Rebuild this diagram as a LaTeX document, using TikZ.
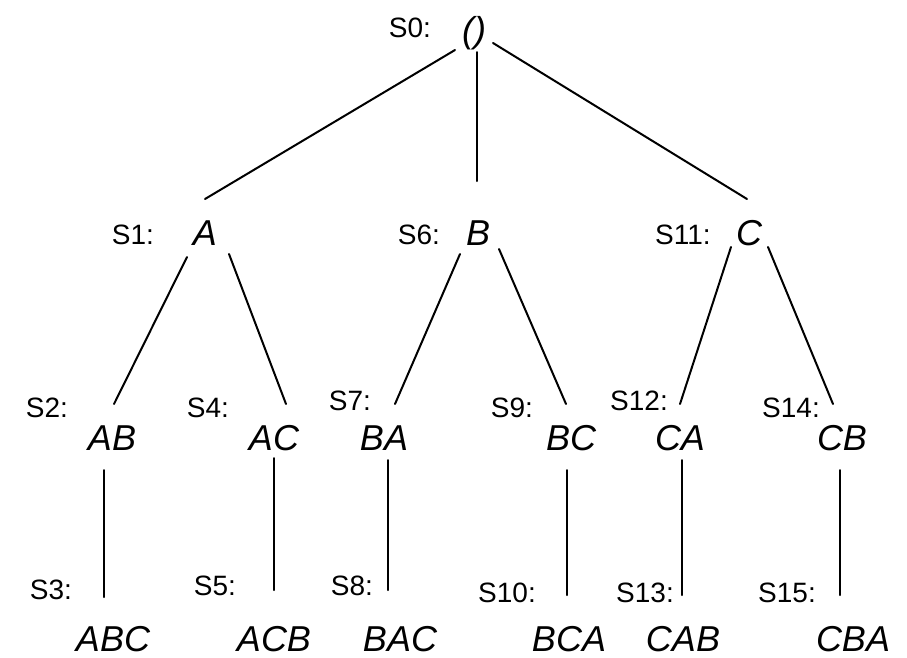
\documentclass[tikz,border=0pt]{standalone}
\usepackage{fontspec}
\setmainfont{Liberation Sans}
\usetikzlibrary{calc}
\begin{document}
\begin{tikzpicture}[x=1pt,y=-1pt,
  st/.style={inner sep=0pt,anchor=base,font=\fontsize{36}{40}\selectfont\itshape},
  lab/.style={inner sep=0pt,anchor=base,font=\fontsize{28}{30}\selectfont},
  edge/.style={line width=2pt,line cap=round}]
\useasboundingbox (0,0) rectangle (907,657);
% states
\node[st] (R) at (474,42) {()};
\node[st] (A) at (205,245) {A};
\node[st] (B) at (478,245) {B};
\node[st] (C) at (749,245) {C};
\node[st] (AB) at (112,450) {AB};
\node[st] (AC) at (274,450) {AC};
\node[st] (BA) at (384,450) {BA};
\node[st] (BC) at (571,450) {BC};
\node[st] (CA) at (680,450) {CA};
\node[st] (CB) at (842,450) {CB};
\node[st] (ABC) at (113,651) {ABC};
\node[st] (ACB) at (274,651) {ACB};
\node[st] (BAC) at (400,651) {BAC};
\node[st] (BCA) at (569,651) {BCA};
\node[st] (CAB) at (683,651) {CAB};
\node[st] (CBA) at (853,651) {CBA};
% labels
\node[lab] (l0) at (410,37) {S0:};
\node[lab] (l1) at (133,244) {S1:};
\node[lab] (l6) at (419,244) {S6:};
\node[lab] (l11) at (683,244) {S11:};
\node[lab] (l2) at (47,417) {S2:};
\node[lab] (l4) at (208,417) {S4:};
\node[lab] (l7) at (350,410) {S7:};
\node[lab] (l9) at (512,417) {S9:};
\node[lab] (l12) at (639,410) {S12:};
\node[lab] (l14) at (791,417) {S14:};
\node[lab] (l3) at (51,599) {S3:};
\node[lab] (l5) at (215,595) {S5:};
\node[lab] (l8) at (352,595) {S8:};
\node[lab] (l10) at (507,602) {S10:};
\node[lab] (l13) at (645,602) {S13:};
\node[lab] (l15) at (787,602) {S15:};
% edges
\draw[edge] ($(R.base)+(-19,8)$) -- ($(A.base)+(0,-46)$);
\draw[edge] ($(R.base)+(3,10)$) -- ($(B.base)+(-1,-64)$);
\draw[edge] ($(R.base)+(19,1)$) -- ($(C.base)+(-2,-46)$);
\draw[edge] ($(A.base)+(-18,12)$) -- ($(AB.base)+(2,-46)$);
\draw[edge] ($(A.base)+(24,9)$) -- ($(AC.base)+(12,-46)$);
\draw[edge] ($(B.base)+(-18,9)$) -- ($(BA.base)+(11,-46)$);
\draw[edge] ($(B.base)+(21,4)$) -- ($(BC.base)+(-5,-46)$);
\draw[edge] ($(C.base)+(-18,2)$) -- ($(CA.base)+(0,-46)$);
\draw[edge] ($(C.base)+(19,2)$) -- ($(CB.base)+(-9,-46)$);
\draw[edge] ($(AB.base)+(-8,20)$) -- ($(ABC.base)+(-9,-54)$);
\draw[edge] ($(AC.base)+(0,8)$) -- ($(ACB.base)+(0,-61)$);
\draw[edge] ($(BA.base)+(4,10)$) -- ($(BAC.base)+(-12,-61)$);
\draw[edge] ($(BC.base)+(-4,20)$) -- ($(BCA.base)+(-2,-56)$);
\draw[edge] ($(CA.base)+(2,10)$) -- ($(CAB.base)+(-1,-56)$);
\draw[edge] ($(CB.base)+(-2,20)$) -- ($(CBA.base)+(-13,-56)$);
\end{tikzpicture}
\end{document}
